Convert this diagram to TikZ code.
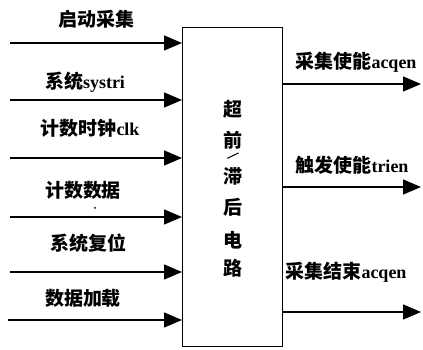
\documentclass[tikz,border=0pt]{standalone}
\usepackage{fontspec}
\setmainfont{Liberation Serif}
\newfontfamily\cjkfont{Noto Sans CJK SC}
\usetikzlibrary{arrows.meta}
\newcommand{\zh}[1]{{\cjkfont\bfseries\fontsize{19}{21}\selectfont #1}}
\newcommand{\la}[1]{{\bfseries\fontsize{18}{20}\selectfont #1}}
\begin{document}
\begin{tikzpicture}[x=1pt,y=1pt,
  sig/.style={line width=1.3pt,-{Triangle[length=18pt,width=15pt]}},
  lbl/.style={inner sep=0pt,anchor=center},
  vch/.style={inner sep=0pt,anchor=center}]
\useasboundingbox (0,0) rectangle (423,350);
\fill[white] (0,0) rectangle (423,350);
% box
\node[draw,line width=1.2pt,minimum width=100pt,minimum height=319pt,inner sep=0pt,anchor=south west] (box) at (182,3) {};
% input coordinates
\coordinate (i1) at (10,307);
\coordinate (i2) at (10,250);
\coordinate (i3) at (10,192);
\coordinate (i4) at (10,133);
\coordinate (i5) at (10,78);
\coordinate (i6) at (8,30);
\foreach \n in {1,...,6}{
  \draw[sig] (i\n) -- (i\n -| box.west);
}
% output arrows
\coordinate (o1) at (421,266);
\coordinate (o2) at (421,163);
\coordinate (o3) at (421,38);
\foreach \n in {1,2,3}{
  \draw[sig] (o\n -| box.east) -- (o\n);
}
% input labels
\node[lbl] (l1) at (96,331) {\zh{启动采集}};
\node[lbl] (l2) at (85,268) {\zh{系统}\la{systri}};
\node[lbl] (l3) at (90,222) {\zh{计数时钟}\la{clk}};
\node[lbl] (l4) at (83,160) {\zh{计数数据}};
\fill (95,142) circle (1pt);
\node[lbl] (l5) at (88,107) {\zh{系统复位}};
\node[lbl] (l6) at (83,52) {\zh{数据加载}};
% output labels
\node[lbl] (r1) at (356,288) {\zh{采集使能}\la{acqen}};
\node[lbl] (r2) at (352,185) {\zh{触发使能}\la{trien}};
\node[lbl] (r3) at (346,78) {\zh{采集结束}\la{acqen}};
% vertical text in box
\node[vch] (c1) at (233,241) {\zh{超}};
\node[vch] (c2) at (233,210) {\zh{前}};
\node[vch,rotate=-45] (c3) at (233,194) {\la{/}};
\node[vch] (c4) at (233,174) {\zh{滞}};
\node[vch] (c5) at (233,143) {\zh{后}};
\node[vch] (c6) at (233,110) {\zh{电}};
\node[vch] (c7) at (233,82) {\zh{路}};
\end{tikzpicture}
\end{document}
